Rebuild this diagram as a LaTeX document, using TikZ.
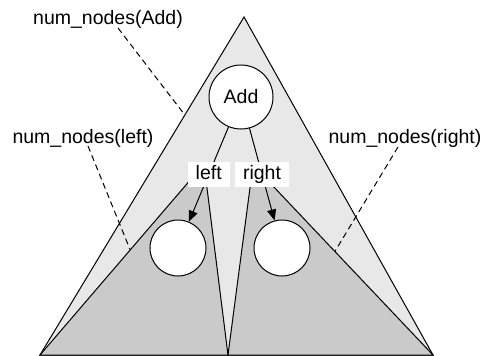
\documentclass[tikz,border=0pt]{standalone}
\usepackage{fontspec}
\setmainfont{Liberation Sans}
\usetikzlibrary{arrows.meta,calc}
\definecolor{outergray}{HTML}{E8E8E8}
\definecolor{innergray}{HTML}{CACACA}
\tikzset{
  tri/.style={draw=black,line width=1pt,line join=miter},
  circ/.style={circle,draw=black,fill=white,line width=1pt,inner sep=0pt},
  lbl/.style={fill=white,inner xsep=8pt,inner ysep=3.5pt,text height=14pt,text depth=4pt},
  ptr/.style={line width=1pt,-{Triangle[length=11pt,width=9pt]}},
  callout/.style={dashed,dash pattern=on 6pt off 4pt,line width=1pt},
  txt/.style={anchor=base,inner sep=0pt}
}
\begin{document}
\begin{tikzpicture}[x=1pt,y=-1pt,font=\fontsize{19.5}{23}\selectfont]
\useasboundingbox (0,0) rectangle (483,356);
\coordinate (A) at (244,17);
\coordinate (BL) at (40,355);
\coordinate (BR) at (433,355);
\coordinate (M) at (228,355);
\coordinate (L) at (204,164);
\coordinate (R) at (253,165);
% triangles
\draw[tri,fill=outergray] (A) -- (BR) -- (BL) -- cycle;
\draw[tri,fill=innergray] (L) -- (M) -- (BL) -- cycle;
\draw[tri,fill=innergray] (R) -- (BR) -- (M) -- cycle;
% circles
\node[circ,minimum size=64pt] (add) at (241,97) {Add};
\node[circ,minimum size=56pt] (lc) at (178,248) {};
\node[circ,minimum size=56pt] (rc) at (282,248) {};
% edges
\draw[ptr] (add) -- node[lbl] {left} (lc);
\draw[ptr] (add) -- node[lbl] {right} (rc);
% callout texts
\node[txt] (tadd) at (108,24) {num\_nodes(Add)};
\node[txt] (tleft) at (83,143) {num\_nodes(left)};
\node[txt] (tright) at (405,143) {num\_nodes(right)};
\coordinate (sadd) at (118,28);
\coordinate (sleft) at (88,146);
\coordinate (sright) at (398,147);
\coordinate (eadd) at ($(A)!0.29!(BL)$);
\coordinate (eleft) at ($(BL)!0.55!(L)$);
\coordinate (eright) at ($(BR)!0.545!(R)$);
\draw[callout] (sadd) -- (eadd);
\draw[callout] (sleft) -- (eleft);
\draw[callout] (sright) -- (eright);
\end{tikzpicture}
\end{document}
